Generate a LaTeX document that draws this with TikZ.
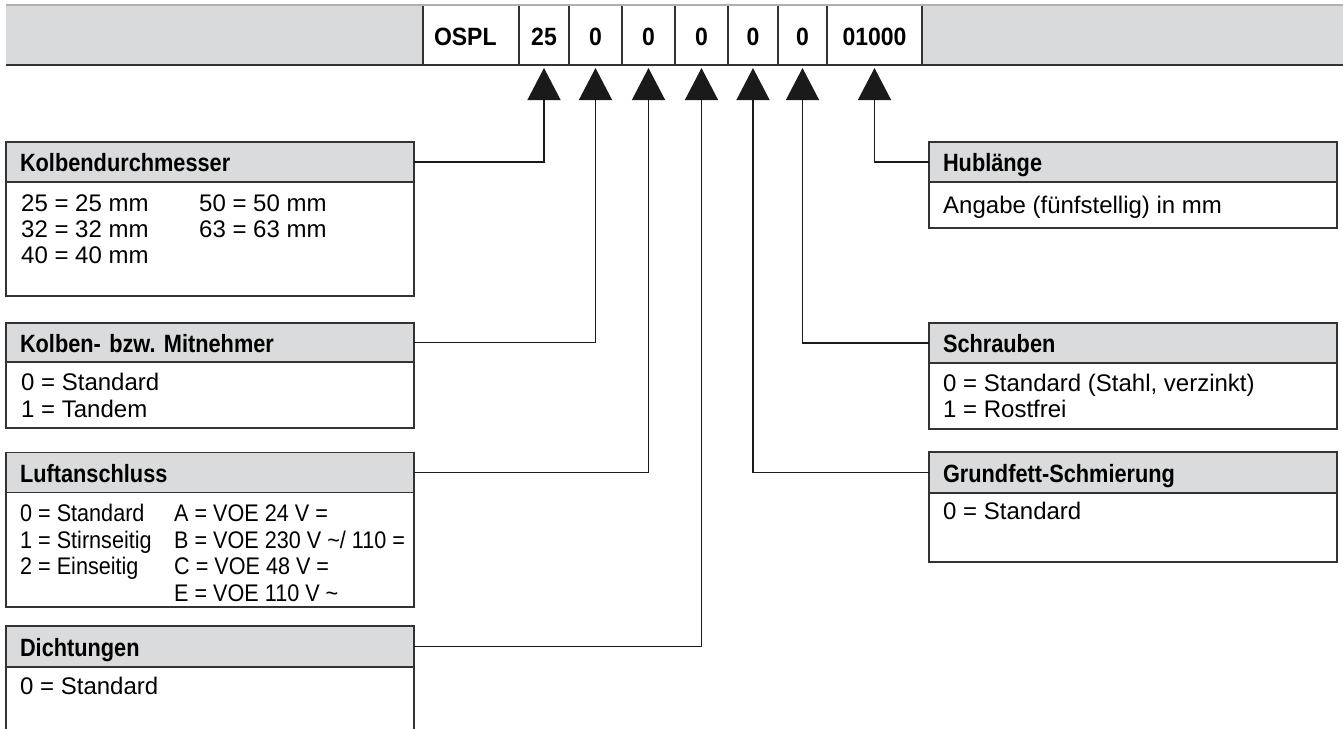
\documentclass[tikz,border=0pt]{standalone}
\usepackage{fontspec}
\setmainfont{Liberation Sans}
\newfontfamily\condfont[FakeStretch=0.9]{Liberation Sans}
\newfontfamily\hdrfont[FakeStretch=0.87]{Liberation Sans}
\newfontfamily\cellfont[FakeStretch=0.92]{Liberation Sans}
\usetikzlibrary{arrows.meta}
\definecolor{bargray}{HTML}{D9DADC}
\definecolor{hdrgray}{HTML}{DADBDC}
\definecolor{boxline}{HTML}{333333}
\definecolor{topline}{HTML}{B0B0B0}
\definecolor{connline}{HTML}{1A1A1A}
\frenchspacing
\begin{document}
\begin{tikzpicture}[x=1pt,y=-1pt,
  cell/.style={fill=white, minimum height=60pt, inner sep=0pt, outer sep=0pt, anchor=north west,
    font=\cellfont\fontsize{25}{28}\selectfont\bfseries, text height=20pt, text depth=0pt},
  cellline/.style={draw=boxline, line width=1.5pt},
  hdr/.style={draw=boxline, fill=hdrgray, line width=1.4pt, anchor=north west, outer sep=0pt,
    inner xsep=14pt, inner ysep=0pt, text width=380pt, align=left,
    font=\hdrfont\fontsize{25}{28}\selectfont\bfseries, text height=19pt, text depth=0pt},
  bodybox/.style={draw=boxline, fill=white, line width=1.4pt, anchor=north west, outer sep=0pt,
    inner sep=0pt, minimum width=408pt},
  btxt/.style={anchor=base west, inner sep=0pt, font=\fontsize{24}{27}\selectfont},
  ctxt/.style={anchor=base west, inner sep=0pt, font=\condfont\fontsize{24}{27}\selectfont},
  conn/.style={draw=connline, line width=1.3pt, -{Triangle[width=33pt,length=32pt]}}
]
\useasboundingbox (0,0) rectangle (1343,728);
\clip (0,0) rectangle (1343,728);

% --- top bar ---
\fill[bargray] (6,5) rectangle (1343,65);
\node[cell, minimum width=96pt, text width=74pt, inner xsep=11pt, align=left] (cospl) at (423,5) {OSPL};
\node[cell, minimum width=50pt] (c25) at (519,5) {25};
\node[cell, minimum width=53pt] (ca) at (569,5) {0};
\node[cell, minimum width=53pt] (cb) at (622,5) {0};
\node[cell, minimum width=53pt] (cc) at (675,5) {0};
\node[cell, minimum width=50pt] (cd) at (728,5) {0};
\node[cell, minimum width=49pt] (ce) at (778,5) {0};
\node[cell, minimum width=95pt] (cf) at (827,5) {01000};
\foreach \c in {cospl,c25,ca,cb,cc,cd,ce,cf}
  \draw[cellline] (\c.north west) -- (\c.south west);
\draw[cellline] (cf.north east) -- (cf.south east);
\draw[topline, line width=1.5pt] (6,5) -- (1343,5);
\draw[boxline, line width=2.4pt] (6,65) -- (1343,65);

% --- left boxes ---
\node[hdr, minimum height=40pt] (kdh) at (6,142) {Kolbendurchmesser};
\node[bodybox, minimum height=114pt] (kdb) at (6,182) {};
\node[btxt] (kd1) at (21,211) {25 = 25 mm};
\node[btxt] (kd2) at (199,211) {50 = 50 mm};
\node[btxt] (kd3) at (21,237) {32 = 32 mm};
\node[btxt] (kd4) at (199,237) {63 = 63 mm};
\node[btxt] (kd5) at (21,263) {40 = 40 mm};

\node[hdr, minimum height=39pt] (kmh) at (6,323) {Kolben- bzw.\ Mitnehmer};
\node[bodybox, minimum height=66pt] (kmb) at (6,362) {};
\node[btxt] (km1) at (21,390) {0 = Standard};
\node[btxt] (km2) at (21,417) {1 = Tandem};

\node[hdr, minimum height=40pt] (luh) at (6,452.5) {Luftanschluss};
\node[bodybox, minimum height=114.5pt] (lub) at (6,492.5) {};
\node[ctxt] (lu1) at (20,521.5) {0 = Standard};
\node[ctxt] (lu2) at (174,521.5) {A = VOE 24 V =};
\node[ctxt] (lu3) at (20,548) {1 = Stirnseitig};
\node[ctxt] (lu4) at (174,548) {B = VOE 230 V \textasciitilde/ 110 =};
\node[ctxt] (lu5) at (20,574.5) {2 = Einseitig};
\node[ctxt] (lu6) at (174,574.5) {C = VOE 48 V =};
\node[ctxt] (lu7) at (174,601) {E = VOE 110 V \textasciitilde};

\node[hdr, minimum height=41pt] (dih) at (6,626) {Dichtungen};
\node[bodybox, minimum height=90pt] (dib) at (6,667) {};
\node[btxt] (di1) at (20,694) {0 = Standard};

% --- right boxes ---
\node[hdr, minimum height=40pt] (huh) at (929,142) {Hublänge};
\node[bodybox, minimum height=46pt] (hub) at (929,182) {};
\node[btxt] (hu1) at (943,213) {Angabe (fünfstellig) in mm};

\node[hdr, minimum height=40pt] (sch) at (929,323) {Schrauben};
\node[bodybox, minimum height=66pt] (scb) at (929,363) {};
\node[btxt] (sc1) at (943,391) {0 = Standard (Stahl, verzinkt)};
\node[btxt] (sc2) at (943,417) {1 = Rostfrei};

\node[hdr, minimum height=41pt] (gfh) at (929,452) {Grundfett-Schmierung};
\node[bodybox, minimum height=69pt] (gfb) at (929,493) {};
\node[btxt] (gf1) at (943,519) {0 = Standard};

% --- connectors ---
\draw[conn] (kdh.east) -| ([yshift=-3pt]c25.south);
\draw[conn] (kmh.east) -| ([yshift=-3pt]ca.south);
\draw[conn] (luh.east) -| ([yshift=-3pt]cb.south);
\draw[conn] (dih.east) -| ([yshift=-3pt]cc.south);
\draw[conn] (gfh.west) -| ([yshift=-3pt]cd.south);
\draw[conn] (sch.west) -| ([yshift=-3pt]ce.south);
\draw[conn] (huh.west) -| ([yshift=-3pt]cf.south);
\end{tikzpicture}
\end{document}
